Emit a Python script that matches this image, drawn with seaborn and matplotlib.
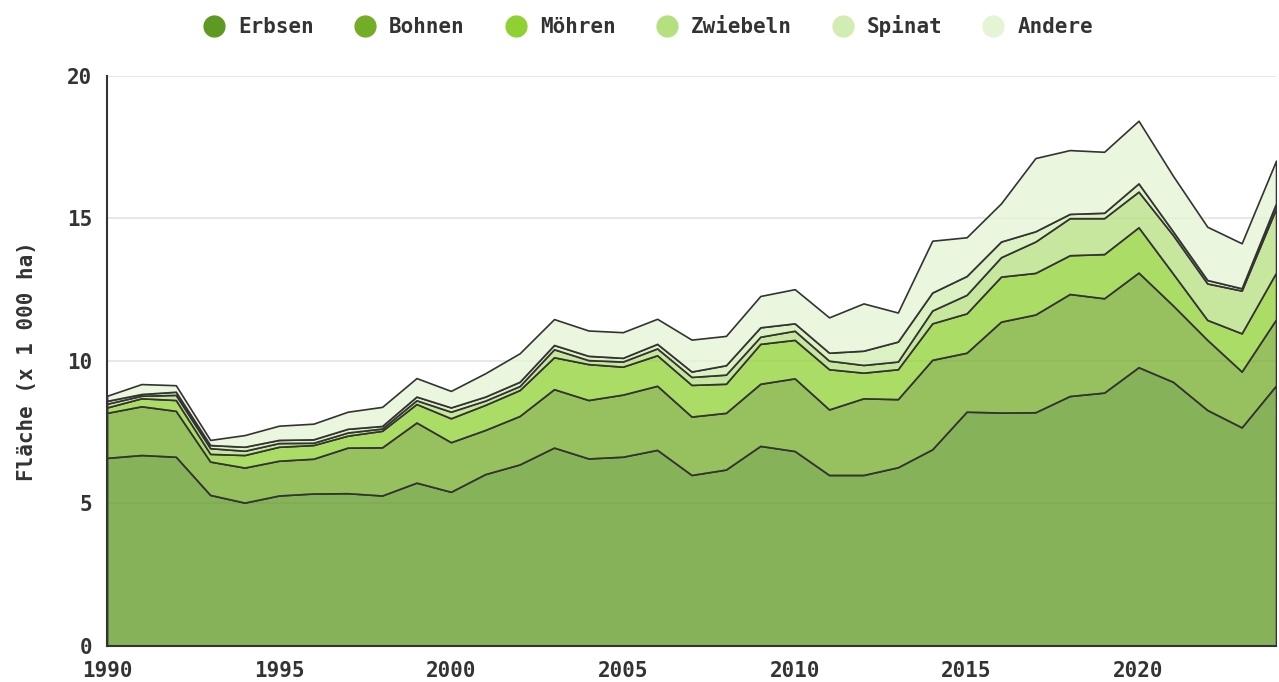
import matplotlib
matplotlib.use("Agg")
import matplotlib.pyplot as plt
import seaborn as sns
import numpy as np
from matplotlib.colors import to_rgba
from matplotlib.lines import Line2D

sns.set_style("white")
plt.rcParams['font.family'] = ['DejaVu Sans Mono']
plt.rcParams['font.weight'] = 'bold'

years = list(range(1990, 2025))

erbsen = [6.60, 6.70, 6.64, 5.30, 5.03, 5.28, 5.35, 5.36, 5.28, 5.73,
          5.41, 6.03, 6.37, 6.96, 6.58, 6.64, 6.88, 6.00, 6.19, 7.02,
          6.84, 6.00, 6.00, 6.27, 6.90, 8.22, 8.19, 8.20, 8.77, 8.89,
          9.78, 9.27, 8.28, 7.67, 9.14]
bohnen = [1.58, 1.71, 1.61, 1.17, 1.23, 1.22, 1.22, 1.60, 1.69, 2.11,
          1.74, 1.55, 1.70, 2.05, 2.05, 2.18, 2.25, 2.05, 1.99, 2.18,
          2.55, 2.30, 2.69, 2.39, 3.14, 2.07, 3.19, 3.43, 3.58, 3.31,
          3.32, 2.68, 2.46, 1.96, 2.32]
moehren = [0.19, 0.28, 0.38, 0.27, 0.44, 0.49, 0.48, 0.42, 0.58, 0.65,
           0.84, 0.88, 0.91, 1.12, 1.26, 0.98, 1.07, 1.11, 1.02, 1.40,
           1.35, 1.41, 0.90, 1.05, 1.28, 1.38, 1.58, 1.46, 1.36, 1.55,
           1.59, 1.12, 0.70, 1.34, 1.64]
zwiebeln = [0.13, 0.09, 0.18, 0.20, 0.15, 0.13, 0.08, 0.11, 0.08, 0.13,
            0.23, 0.15, 0.14, 0.28, 0.14, 0.18, 0.24, 0.28, 0.32, 0.25,
            0.32, 0.30, 0.27, 0.27, 0.45, 0.65, 0.68, 1.10, 1.30, 1.26,
            1.25, 1.35, 1.28, 1.50, 2.25]
spinat = [0.10, 0.06, 0.11, 0.11, 0.14, 0.11, 0.12, 0.13, 0.09, 0.13,
          0.15, 0.14, 0.15, 0.15, 0.15, 0.13, 0.16, 0.19, 0.33, 0.33,
          0.26, 0.28, 0.50, 0.70, 0.63, 0.66, 0.55, 0.36, 0.15, 0.19,
          0.29, 0.13, 0.12, 0.08, 0.18]
andere = [0.18, 0.35, 0.23, 0.18, 0.41, 0.50, 0.55, 0.60, 0.67, 0.65,
          0.58, 0.82, 1.00, 0.91, 0.89, 0.90, 0.88, 1.12, 1.03, 1.10,
          1.20, 1.24, 1.66, 1.02, 1.82, 1.36, 1.34, 2.57, 2.24, 2.14,
          2.20, 1.95, 1.87, 1.58, 1.50]

labels = ["Erbsen", "Bohnen", "Möhren", "Zwiebeln", "Spinat", "Andere"]
colors = ["#5e9a22", "#73ad28", "#8fd133", "#b5e07f", "#d1edb1", "#e4f4d4"]

fig = plt.figure(figsize=(12.79, 6.82), dpi=100)
ax = fig.add_axes([0.0837, 0.0528, 0.914, 0.8358])

# faded fills, solid dark outlines
fills = [to_rgba(c, 0.75) for c in colors]
ax.stackplot(years, erbsen, bohnen, moehren, zwiebeln, spinat, andere,
             colors=fills, edgecolor="#333333", linewidth=1.2)

ax.set_xlim(1990, 2024)
ax.set_ylim(0, 20)
ax.set_xticks(range(1990, 2025, 5))
ax.set_yticks([0, 5, 10, 15, 20])
ax.yaxis.grid(True, color="#e3e3e3", linewidth=1.2)
ax.set_axisbelow(True)

for side in ["top", "right"]:
    ax.spines[side].set_visible(False)
for side in ["left", "bottom"]:
    ax.spines[side].set_color("#333333")
    ax.spines[side].set_linewidth(1.5)

ax.tick_params(axis="both", direction="out", length=7, width=1.5,
               color="#333333", labelsize=15, labelcolor="#333333")
ax.set_ylabel("Fläche (x 1 000 ha)", fontsize=15, color="#333333",
              fontweight="bold", labelpad=22)

handles = [Line2D([0], [0], marker="o", linestyle="", markersize=15,
                  markerfacecolor=c, markeredgecolor=c) for c in colors]
fig.legend(handles, labels, loc="center", bbox_to_anchor=(0.503, 0.962),
           ncol=6, frameon=False, fontsize=15, handletextpad=0.15,
           columnspacing=1.45, labelcolor="#333333")

fig.savefig("out.png", dpi=100)
